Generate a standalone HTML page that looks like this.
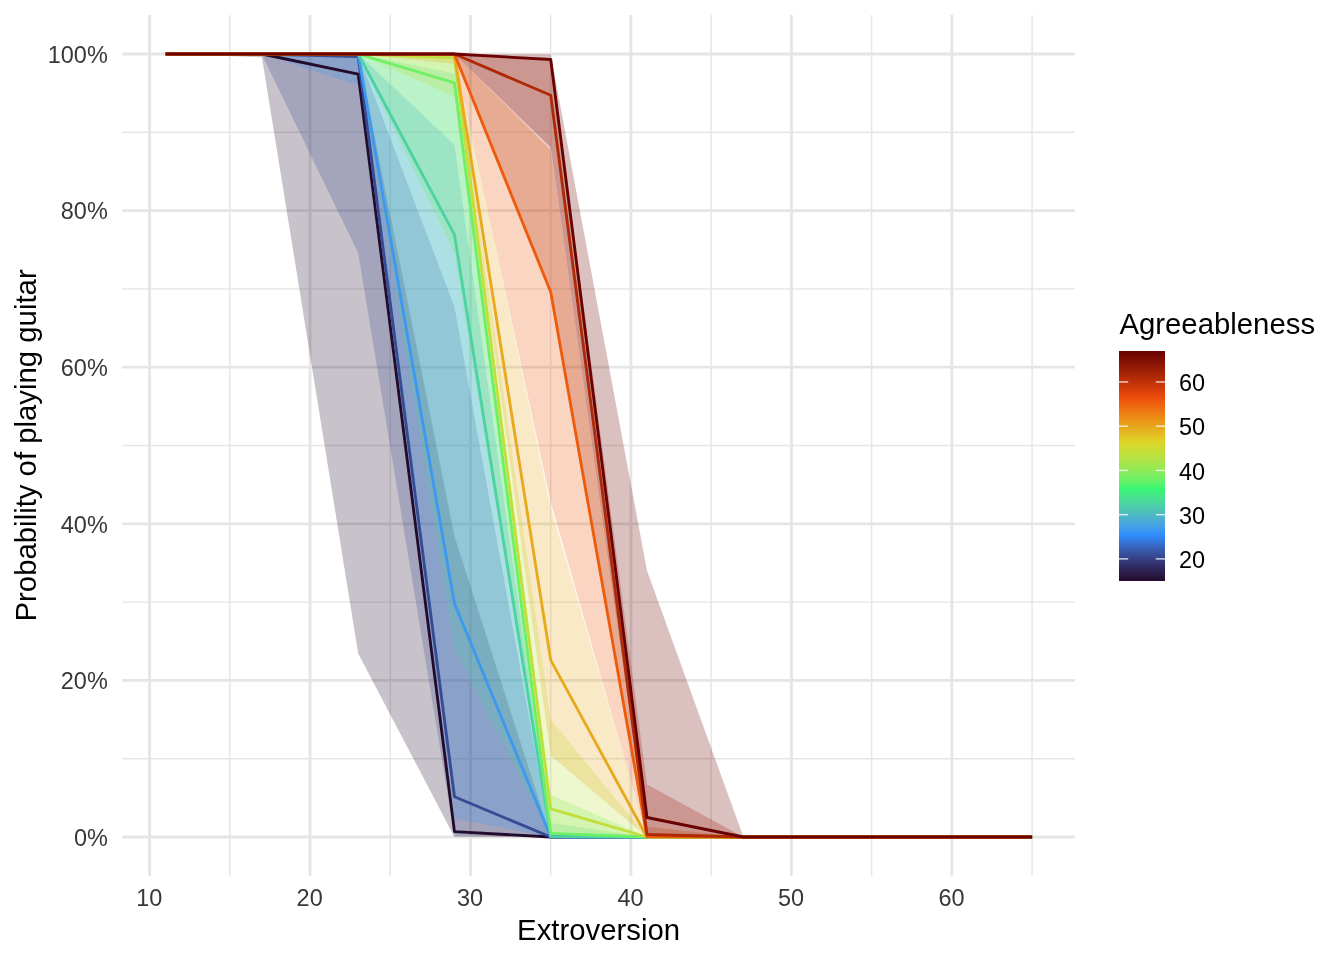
<!DOCTYPE html><html><head><meta charset="utf-8"><style>html,body{margin:0;padding:0;background:#fff;overflow:hidden}svg{display:block}text{font-family:"Liberation Sans",sans-serif}</style></head><body>
<svg width="1344" height="960" viewBox="0 0 1344 960" style="will-change:transform">
<rect width="1344" height="960" fill="#fff"/>
<line x1="122.2" x2="1075.0" y1="758.70" y2="758.70" stroke="#E5E5E5" stroke-width="1.42"/><line x1="122.2" x2="1075.0" y1="602.10" y2="602.10" stroke="#E5E5E5" stroke-width="1.42"/><line x1="122.2" x2="1075.0" y1="445.50" y2="445.50" stroke="#E5E5E5" stroke-width="1.42"/><line x1="122.2" x2="1075.0" y1="288.90" y2="288.90" stroke="#E5E5E5" stroke-width="1.42"/><line x1="122.2" x2="1075.0" y1="132.30" y2="132.30" stroke="#E5E5E5" stroke-width="1.42"/><line y1="15.1" y2="875.7" x1="229.82" x2="229.82" stroke="#E5E5E5" stroke-width="1.42"/><line y1="15.1" y2="875.7" x1="390.27" x2="390.27" stroke="#E5E5E5" stroke-width="1.42"/><line y1="15.1" y2="875.7" x1="550.73" x2="550.73" stroke="#E5E5E5" stroke-width="1.42"/><line y1="15.1" y2="875.7" x1="711.18" x2="711.18" stroke="#E5E5E5" stroke-width="1.42"/><line y1="15.1" y2="875.7" x1="871.63" x2="871.63" stroke="#E5E5E5" stroke-width="1.42"/><line y1="15.1" y2="875.7" x1="1032.08" x2="1032.08" stroke="#E5E5E5" stroke-width="1.42"/><line x1="122.2" x2="1075.0" y1="837.00" y2="837.00" stroke="#E5E5E5" stroke-width="2.84"/><line x1="122.2" x2="1075.0" y1="680.40" y2="680.40" stroke="#E5E5E5" stroke-width="2.84"/><line x1="122.2" x2="1075.0" y1="523.80" y2="523.80" stroke="#E5E5E5" stroke-width="2.84"/><line x1="122.2" x2="1075.0" y1="367.20" y2="367.20" stroke="#E5E5E5" stroke-width="2.84"/><line x1="122.2" x2="1075.0" y1="210.60" y2="210.60" stroke="#E5E5E5" stroke-width="2.84"/><line x1="122.2" x2="1075.0" y1="54.00" y2="54.00" stroke="#E5E5E5" stroke-width="2.84"/><line y1="15.1" y2="875.7" x1="149.60" x2="149.60" stroke="#E5E5E5" stroke-width="2.84"/><line y1="15.1" y2="875.7" x1="310.05" x2="310.05" stroke="#E5E5E5" stroke-width="2.84"/><line y1="15.1" y2="875.7" x1="470.50" x2="470.50" stroke="#E5E5E5" stroke-width="2.84"/><line y1="15.1" y2="875.7" x1="630.95" x2="630.95" stroke="#E5E5E5" stroke-width="2.84"/><line y1="15.1" y2="875.7" x1="791.40" x2="791.40" stroke="#E5E5E5" stroke-width="2.84"/><line y1="15.1" y2="875.7" x1="951.85" x2="951.85" stroke="#E5E5E5" stroke-width="2.84"/>
<path d="M165.64,54.00 L261.92,54.00 L358.19,54.17 L454.46,536.33 L550.73,836.85 L647.00,837.00 L743.27,837.00 L839.54,837.00 L935.81,837.00 L1032.08,837.00 L1032.08,837.00 L935.81,837.00 L839.54,837.00 L743.27,837.00 L647.00,837.00 L550.73,837.00 L454.46,836.91 L358.19,653.39 L261.92,57.13 L165.64,54.01Z" fill="#230B2C" fill-opacity="0.25"/>
<path d="M165.64,54.00 L261.92,54.00 L358.19,54.03 L454.46,306.91 L550.73,836.50 L647.00,837.00 L743.27,837.00 L839.54,837.00 L935.81,837.00 L1032.08,837.00 L1032.08,837.00 L935.81,837.00 L839.54,837.00 L743.27,837.00 L647.00,837.00 L550.73,837.00 L454.46,835.59 L358.19,252.88 L261.92,54.42 L165.64,54.00Z" fill="#364B94" fill-opacity="0.25"/>
<path d="M165.64,54.00 L261.92,54.00 L358.19,54.00 L454.46,144.83 L550.73,835.29 L647.00,837.00 L743.27,837.00 L839.54,837.00 L935.81,837.00 L1032.08,837.00 L1032.08,837.00 L935.81,837.00 L839.54,837.00 L743.27,837.00 L647.00,837.00 L550.73,837.00 L454.46,818.21 L358.19,85.32 L261.92,54.06 L165.64,54.00Z" fill="#3D98EF" fill-opacity="0.25"/>
<path d="M165.64,54.00 L261.92,54.00 L358.19,54.00 L454.46,73.59 L550.73,822.91 L647.00,836.99 L743.27,837.00 L839.54,837.00 L935.81,837.00 L1032.08,837.00 L1032.08,837.00 L935.81,837.00 L839.54,837.00 L743.27,837.00 L647.00,837.00 L550.73,836.96 L454.46,648.30 L358.19,58.22 L261.92,54.01 L165.64,54.00Z" fill="#4DD2A4" fill-opacity="0.25"/>
<path d="M165.64,54.00 L261.92,54.00 L358.19,54.00 L454.46,56.82 L550.73,794.72 L647.00,836.96 L743.27,837.00 L839.54,837.00 L935.81,837.00 L1032.08,837.00 L1032.08,837.00 L935.81,837.00 L839.54,837.00 L743.27,837.00 L647.00,837.00 L550.73,836.36 L454.46,253.66 L358.19,54.69 L261.92,54.00 L165.64,54.00Z" fill="#6EF064" fill-opacity="0.25"/>
<path d="M165.64,54.00 L261.92,54.00 L358.19,54.00 L454.46,54.29 L550.73,719.55 L647.00,836.84 L743.27,837.00 L839.54,837.00 L935.81,837.00 L1032.08,837.00 L1032.08,837.00 L935.81,837.00 L839.54,837.00 L743.27,837.00 L647.00,837.00 L550.73,835.43 L454.46,96.28 L358.19,54.13 L261.92,54.00 L165.64,54.00Z" fill="#C1DE3B" fill-opacity="0.25"/>
<path d="M165.64,54.00 L261.92,54.00 L358.19,54.00 L454.46,54.02 L550.73,507.36 L647.00,836.25 L743.27,837.00 L839.54,837.00 L935.81,837.00 L1032.08,837.00 L1032.08,837.00 L935.81,837.00 L839.54,837.00 L743.27,837.00 L647.00,837.00 L550.73,755.57 L454.46,63.88 L358.19,54.03 L261.92,54.00 L165.64,54.00Z" fill="#E7A91D" fill-opacity="0.25"/>
<path d="M165.64,54.00 L261.92,54.00 L358.19,54.00 L454.46,54.00 L550.73,150.31 L647.00,826.82 L743.27,836.99 L839.54,837.00 L935.81,837.00 L1032.08,837.00 L1032.08,837.00 L935.81,837.00 L839.54,837.00 L743.27,837.00 L647.00,836.98 L550.73,502.66 L454.46,56.34 L358.19,54.01 L261.92,54.00 L165.64,54.00Z" fill="#ED5B0D" fill-opacity="0.25"/>
<path d="M165.64,54.00 L261.92,54.00 L358.19,54.00 L454.46,54.00 L550.73,58.59 L647.00,784.54 L743.27,836.94 L839.54,837.00 L935.81,837.00 L1032.08,837.00 L1032.08,837.00 L935.81,837.00 L839.54,837.00 L743.27,837.00 L647.00,836.81 L550.73,289.68 L454.46,54.60 L358.19,54.00 L261.92,54.00 L165.64,54.00Z" fill="#AF2906" fill-opacity="0.25"/>
<path d="M165.64,54.00 L261.92,54.00 L358.19,54.00 L454.46,54.00 L550.73,54.26 L647.00,570.78 L743.27,836.58 L839.54,837.00 L935.81,837.00 L1032.08,837.00 L1032.08,837.00 L935.81,837.00 L839.54,837.00 L743.27,837.00 L647.00,835.87 L550.73,147.18 L454.46,54.16 L358.19,54.00 L261.92,54.00 L165.64,54.00Z" fill="#6A0201" fill-opacity="0.25"/>
<path d="M165.64,54.00 L261.92,54.00 L358.19,74.03 L454.46,831.63 L550.73,837.00 L647.00,837.00 L743.27,837.00 L839.54,837.00 L935.81,837.00 L1032.08,837.00" fill="none" stroke="#230B2C" stroke-width="2.84" stroke-linejoin="round"/>
<path d="M165.64,54.00 L261.92,54.00 L358.19,56.61 L454.46,796.78 L550.73,836.99 L647.00,837.00 L743.27,837.00 L839.54,837.00 L935.81,837.00 L1032.08,837.00" fill="none" stroke="#364B94" stroke-width="2.84" stroke-linejoin="round"/>
<path d="M165.64,54.00 L261.92,54.00 L358.19,54.33 L454.46,603.53 L550.73,836.94 L647.00,837.00 L743.27,837.00 L839.54,837.00 L935.81,837.00 L1032.08,837.00" fill="none" stroke="#3D98EF" stroke-width="2.84" stroke-linejoin="round"/>
<path d="M165.64,54.00 L261.92,54.00 L358.19,54.04 L454.46,234.69 L550.73,836.53 L647.00,837.00 L743.27,837.00 L839.54,837.00 L935.81,837.00 L1032.08,837.00" fill="none" stroke="#4DD2A4" stroke-width="2.84" stroke-linejoin="round"/>
<path d="M165.64,54.00 L261.92,54.00 L358.19,54.01 L454.46,82.84 L550.73,833.31 L647.00,837.00 L743.27,837.00 L839.54,837.00 L935.81,837.00 L1032.08,837.00" fill="none" stroke="#6EF064" stroke-width="2.84" stroke-linejoin="round"/>
<path d="M165.64,54.00 L261.92,54.00 L358.19,54.00 L454.46,57.80 L550.73,808.93 L647.00,836.99 L743.27,837.00 L839.54,837.00 L935.81,837.00 L1032.08,837.00" fill="none" stroke="#C1DE3B" stroke-width="2.84" stroke-linejoin="round"/>
<path d="M165.64,54.00 L261.92,54.00 L358.19,54.00 L454.46,54.49 L550.73,660.17 L647.00,836.96 L743.27,837.00 L839.54,837.00 L935.81,837.00 L1032.08,837.00" fill="none" stroke="#E7A91D" stroke-width="2.84" stroke-linejoin="round"/>
<path d="M165.64,54.00 L261.92,54.00 L358.19,54.00 L454.46,54.06 L550.73,292.09 L647.00,836.68 L743.27,837.00 L839.54,837.00 L935.81,837.00 L1032.08,837.00" fill="none" stroke="#ED5B0D" stroke-width="2.84" stroke-linejoin="round"/>
<path d="M165.64,54.00 L261.92,54.00 L358.19,54.00 L454.46,54.01 L550.73,95.30 L647.00,834.46 L743.27,837.00 L839.54,837.00 L935.81,837.00 L1032.08,837.00" fill="none" stroke="#AF2906" stroke-width="2.84" stroke-linejoin="round"/>
<path d="M165.64,54.00 L261.92,54.00 L358.19,54.00 L454.46,54.00 L550.73,59.52 L647.00,817.51 L743.27,837.00 L839.54,837.00 L935.81,837.00 L1032.08,837.00" fill="none" stroke="#6A0201" stroke-width="2.84" stroke-linejoin="round"/>
<text x="107.8" y="845.70" font-size="23.47" fill="#383838" text-anchor="end">0%</text>
<text x="107.8" y="689.10" font-size="23.47" fill="#383838" text-anchor="end">20%</text>
<text x="107.8" y="532.50" font-size="23.47" fill="#383838" text-anchor="end">40%</text>
<text x="107.8" y="375.90" font-size="23.47" fill="#383838" text-anchor="end">60%</text>
<text x="107.8" y="219.30" font-size="23.47" fill="#383838" text-anchor="end">80%</text>
<text x="107.8" y="62.70" font-size="23.47" fill="#383838" text-anchor="end">100%</text>
<text x="149.20" y="906.2" font-size="23.47" fill="#383838" text-anchor="middle">10</text>
<text x="309.65" y="906.2" font-size="23.47" fill="#383838" text-anchor="middle">20</text>
<text x="470.10" y="906.2" font-size="23.47" fill="#383838" text-anchor="middle">30</text>
<text x="630.55" y="906.2" font-size="23.47" fill="#383838" text-anchor="middle">40</text>
<text x="791.00" y="906.2" font-size="23.47" fill="#383838" text-anchor="middle">50</text>
<text x="951.45" y="906.2" font-size="23.47" fill="#383838" text-anchor="middle">60</text>
<text x="598.60" y="940.3" font-size="29.33" fill="#000" text-anchor="middle">Extroversion</text>
<text transform="translate(35.6,445.40) rotate(-90)" font-size="29.33" fill="#000" text-anchor="middle">Probability of playing guitar</text>
<text x="1119.4" y="333.75" font-size="29.33" fill="#000">Agreeableness</text>
<defs><linearGradient id="cb" x1="0" y1="0" x2="0" y2="1"><stop offset="0.00" stop-color="#6A0201"/><stop offset="0.01" stop-color="#6F0502"/><stop offset="0.02" stop-color="#750903"/><stop offset="0.03" stop-color="#7B0D03"/><stop offset="0.04" stop-color="#811004"/><stop offset="0.05" stop-color="#871404"/><stop offset="0.06" stop-color="#8E1704"/><stop offset="0.07" stop-color="#941B05"/><stop offset="0.08" stop-color="#9A1E05"/><stop offset="0.09" stop-color="#A12106"/><stop offset="0.10" stop-color="#A72506"/><stop offset="0.11" stop-color="#AE2806"/><stop offset="0.12" stop-color="#B52C07"/><stop offset="0.13" stop-color="#BB3007"/><stop offset="0.14" stop-color="#C23308"/><stop offset="0.15" stop-color="#C93708"/><stop offset="0.16" stop-color="#D03B09"/><stop offset="0.17" stop-color="#D73E09"/><stop offset="0.18" stop-color="#DE420A"/><stop offset="0.19" stop-color="#E6460A"/><stop offset="0.20" stop-color="#ED4A0B"/><stop offset="0.21" stop-color="#ED520C"/><stop offset="0.22" stop-color="#ED5A0D"/><stop offset="0.23" stop-color="#ED610E"/><stop offset="0.24" stop-color="#ED690F"/><stop offset="0.25" stop-color="#ED7010"/><stop offset="0.26" stop-color="#ED7712"/><stop offset="0.27" stop-color="#EC7E13"/><stop offset="0.28" stop-color="#EC8515"/><stop offset="0.29" stop-color="#EB8C16"/><stop offset="0.30" stop-color="#EA9318"/><stop offset="0.31" stop-color="#E99919"/><stop offset="0.32" stop-color="#E8A01B"/><stop offset="0.33" stop-color="#E7A71C"/><stop offset="0.34" stop-color="#E6AE1E"/><stop offset="0.35" stop-color="#E5B520"/><stop offset="0.36" stop-color="#E3BB22"/><stop offset="0.37" stop-color="#E2C223"/><stop offset="0.38" stop-color="#E0C925"/><stop offset="0.39" stop-color="#DED027"/><stop offset="0.40" stop-color="#DCD629"/><stop offset="0.41" stop-color="#D6D82D"/><stop offset="0.42" stop-color="#D0DA31"/><stop offset="0.43" stop-color="#CADC35"/><stop offset="0.44" stop-color="#C4DE39"/><stop offset="0.45" stop-color="#BEDF3D"/><stop offset="0.46" stop-color="#B7E141"/><stop offset="0.47" stop-color="#B1E345"/><stop offset="0.48" stop-color="#AAE448"/><stop offset="0.49" stop-color="#A3E64C"/><stop offset="0.50" stop-color="#9CE750"/><stop offset="0.51" stop-color="#95E953"/><stop offset="0.52" stop-color="#8DEB57"/><stop offset="0.53" stop-color="#85EC5B"/><stop offset="0.54" stop-color="#7CEE5E"/><stop offset="0.55" stop-color="#73EF62"/><stop offset="0.56" stop-color="#69F065"/><stop offset="0.57" stop-color="#5FF269"/><stop offset="0.58" stop-color="#53F36C"/><stop offset="0.59" stop-color="#46F570"/><stop offset="0.60" stop-color="#36F673"/><stop offset="0.61" stop-color="#3CF17B"/><stop offset="0.62" stop-color="#41EB82"/><stop offset="0.63" stop-color="#44E68A"/><stop offset="0.64" stop-color="#48E091"/><stop offset="0.65" stop-color="#4ADB98"/><stop offset="0.66" stop-color="#4CD59F"/><stop offset="0.67" stop-color="#4ED0A6"/><stop offset="0.68" stop-color="#4ECAAD"/><stop offset="0.69" stop-color="#4FC5B4"/><stop offset="0.70" stop-color="#4FC0BA"/><stop offset="0.71" stop-color="#4EBBC1"/><stop offset="0.72" stop-color="#4DB5C8"/><stop offset="0.73" stop-color="#4CB0CF"/><stop offset="0.74" stop-color="#4AABD6"/><stop offset="0.75" stop-color="#47A6DC"/><stop offset="0.76" stop-color="#44A1E3"/><stop offset="0.77" stop-color="#409CEA"/><stop offset="0.78" stop-color="#3C97F1"/><stop offset="0.79" stop-color="#3692F7"/><stop offset="0.80" stop-color="#2F8DFE"/><stop offset="0.81" stop-color="#3185F1"/><stop offset="0.82" stop-color="#337DE5"/><stop offset="0.83" stop-color="#3575D8"/><stop offset="0.84" stop-color="#366DCC"/><stop offset="0.85" stop-color="#3766C0"/><stop offset="0.86" stop-color="#375FB4"/><stop offset="0.87" stop-color="#3758A9"/><stop offset="0.88" stop-color="#37519D"/><stop offset="0.89" stop-color="#364A92"/><stop offset="0.90" stop-color="#364388"/><stop offset="0.91" stop-color="#353D7D"/><stop offset="0.92" stop-color="#333673"/><stop offset="0.93" stop-color="#323069"/><stop offset="0.94" stop-color="#302A5F"/><stop offset="0.95" stop-color="#2E2556"/><stop offset="0.96" stop-color="#2C1F4D"/><stop offset="0.97" stop-color="#2A1A44"/><stop offset="0.98" stop-color="#28153C"/><stop offset="0.99" stop-color="#251034"/><stop offset="1.00" stop-color="#230B2C"/></linearGradient></defs>
<rect x="1119.0" y="351.0" width="46.0" height="230.0" fill="url(#cb)"/>
<line x1="1119.0" x2="1128.2" y1="558.88" y2="558.88" stroke="#fff" stroke-opacity="0.8" stroke-width="1.4"/>
<line x1="1155.8" x2="1165.0" y1="558.88" y2="558.88" stroke="#fff" stroke-opacity="0.8" stroke-width="1.4"/>
<text x="1179.0" y="568.08" font-size="23.47" fill="#000">20</text>
<line x1="1119.0" x2="1128.2" y1="514.65" y2="514.65" stroke="#fff" stroke-opacity="0.8" stroke-width="1.4"/>
<line x1="1155.8" x2="1165.0" y1="514.65" y2="514.65" stroke="#fff" stroke-opacity="0.8" stroke-width="1.4"/>
<text x="1179.0" y="523.85" font-size="23.47" fill="#000">30</text>
<line x1="1119.0" x2="1128.2" y1="470.42" y2="470.42" stroke="#fff" stroke-opacity="0.8" stroke-width="1.4"/>
<line x1="1155.8" x2="1165.0" y1="470.42" y2="470.42" stroke="#fff" stroke-opacity="0.8" stroke-width="1.4"/>
<text x="1179.0" y="479.62" font-size="23.47" fill="#000">40</text>
<line x1="1119.0" x2="1128.2" y1="426.19" y2="426.19" stroke="#fff" stroke-opacity="0.8" stroke-width="1.4"/>
<line x1="1155.8" x2="1165.0" y1="426.19" y2="426.19" stroke="#fff" stroke-opacity="0.8" stroke-width="1.4"/>
<text x="1179.0" y="435.39" font-size="23.47" fill="#000">50</text>
<line x1="1119.0" x2="1128.2" y1="381.96" y2="381.96" stroke="#fff" stroke-opacity="0.8" stroke-width="1.4"/>
<line x1="1155.8" x2="1165.0" y1="381.96" y2="381.96" stroke="#fff" stroke-opacity="0.8" stroke-width="1.4"/>
<text x="1179.0" y="391.16" font-size="23.47" fill="#000">60</text>
</svg></body></html>
